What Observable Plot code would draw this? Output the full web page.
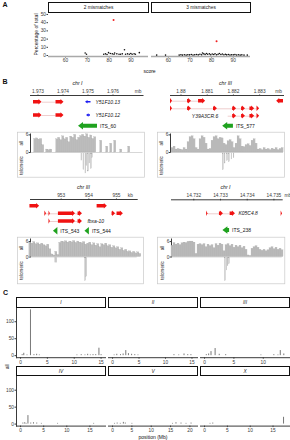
<!DOCTYPE html>
<html><head><meta charset="utf-8">
<script src="https://cdn.jsdelivr.net/npm/d3@7"></script>
<script src="https://cdn.jsdelivr.net/npm/@observablehq/plot@0.6"></script>
<style>
html,body{margin:0;padding:0;background:#fff;}
#c{position:relative;width:290px;height:440px;overflow:hidden;background:#fff;}
#c > svg{position:absolute;left:0;top:0;}
</style></head><body><div id="c"></div>
<script>
// ---------------- Panel A data ----------------
const mismatchLabels = ["2 mismatches", "3 mismatches"];
const scoreA2 = [69, 69.6, 77.5, 78.3, 79, 79.7, 80.5, 81.4, 82.2, 82.5, 83.5, 84.5, 85.2, 86, 87, 87.5, 88.4, 89.2, 89.9, 90.5, 91.4, 92, 93.8];
const pctA2   = [3, 1.5, 1.5, 2, 1.2, 3.5, 2.5, 2, 1.5, 3, 2, 1.5, 1.5, 2, 7, 1.5, 2, 1.5, 2.5, 1.5, 2, 1.5, 3.5];
const scoreA3 = [54.6, 58.7, 65, 65.8, 66.5, 67.4, 68.2, 69, 69.8, 70.6, 71.4, 72.2, 73, 73.8, 74.6, 75.4, 75.8, 76.4, 77, 77.6, 78.2, 79, 79.6, 80.3, 81, 81.6, 82.3, 83, 83.6, 84.3, 85, 85.7, 86.4, 87, 87.8, 88.5, 89.2, 90, 90.8, 91.6, 92.4, 93.2, 94, 95, 96.5];
const pctA3   = [0.5, 0.5, 0.5, 1, 0.5, 1, 0.5, 1, 0.8, 1.2, 0.6, 1, 1.3, 0.8, 1.5, 1, 3, 2, 1.2, 2.5, 1.5, 2, 1, 1.8, 1.2, 2.2, 1, 1.6, 2.4, 1.2, 1.8, 1, 1.5, 0.8, 1.2, 0.6, 1, 0.8, 1.1, 0.6, 0.9, 0.5, 0.8, 0.5, 0.5];
const redScore = [82, 82.3];
const redPct = [43.3, 17.5];
const scoreTicks = [60, 70, 80, 90];
const pctTicks = [0, 10, 20, 30, 40, 50];

// ---------------- Panel B data (positions in kb) ----------------
const ticksB1 = [1973, 1974, 1975, 1976], tickLabelsB1 = ["1.973", "1.974", "1.975", "1.976"];
const exonsB1 = [[1, 1972.82, 1973.16, "+"], [1, 1973.72, 1974.04, "+"], [2, 1972.82, 1973.16, "+"], [2, 1973.72, 1974.04, "+"]];
const intronsB1 = [[1, 1973.16, 1973.72], [2, 1973.16, 1973.72]];
const blueB1 = [[1, 1974.9, 1975.12, "-"], [2, 1974.94, 1975.1, "-"]];
const namesB1 = [[1, 1975.3, "Y51F10.13", "start"], [2, 1975.3, "Y51F10.12", "start"]];
const itsB1 = [[1974.62, 1975.38, "-", "ITS_60"]];
const covB1 = [0, 4.6, 4.8, 4.4, 4.6, 2.5, 0, 1, 0.8, 1, 0, 0, 4.5, 5, 4.2, 5.5, 4.5, 5, 3.5, 5.4, 5, 6, 4.2, 5, 5.6, 6, 5.4, 6.2, 5, 5.8, 4.6, 5.2, 0, 0, 4, 0, 0, 2, 0, 3, 0, 4, 0, 0, 1, 0, 0, 0, 2, 0];
const telPosB1 = [1974.74, 1974.82, 1974.90, 1974.94, 1975.00, 1975.06, 1975.12, 1975.16];
const telValB1 = [1.8, 4.2, 5, 3.2, 4.5, 2.5, 3.8, 1.2];

const ticksB2 = [1880, 1881, 1882, 1883], tickLabelsB2 = ["1.88", "1.881", "1.882", "1.883"];
const exonsB2 = [[1, 1879.60, 1879.68, "+"], [1, 1880.25, 1880.40, "+"], [1, 1880.67, 1880.94, "+"], [1, 1883.65, 1883.91, "-"],
  [2, 1879.60, 1879.68, "+"], [2, 1880.25, 1880.40, "+"], [2, 1881.24, 1881.39, "+"], [2, 1881.97, 1882.12, "+"], [2, 1882.31, 1882.46, "+"], [2, 1882.63, 1882.81, "+"], [2, 1882.90, 1883.00, "+"],
  [3, 1881.97, 1882.12, "+"], [3, 1882.31, 1882.46, "+"], [3, 1882.63, 1882.81, "+"], [3, 1882.90, 1883.00, "+"]];
const intronsB2 = [[1, 1879.68, 1880.67], [2, 1879.68, 1882.90], [3, 1881.80, 1882.90]];
const blueB2 = [];
const namesB2 = [[3, 1881.42, "Y39A3CR.6", "end"]];
const itsB2 = [[1881.59, 1882.0, "-", "ITS_577"]];
const covB2 = [1.5, 2, 1, 1.2, 1, 0.8, 1.5, 1, 3.5, 5.2, 5.5, 4.5, 1.5, 1, 4.5, 5.5, 5, 3, 1, 1.2, 4, 5.2, 5.5, 4.5, 5, 4.8, 3, 2.5, 3.8, 4.2, 3.5, 1.5, 3, 5.5, 4.5, 2, 1.8, 2.5, 2.8, 2.2, 4, 4.5, 3, 1, 1.2, 0.8, 1.5, 1, 1.2, 0.8, 1.3, 1, 1.5, 0.8, 1.2, 1.5];
const telPosB2 = [1881.60, 1881.67, 1881.76, 1881.83, 1881.93, 1882.01];
const telValB2 = [4.2, 2.5, 1.8, 2.2, 1.5, 1.2];

const ticksB3 = [953, 954, 955], tickLabelsB3 = ["953", "954", "955"];
const exonsB3 = [[1, 951.87, 952.22, "+"], [1, 954.30, 954.67, "+"],
  [2, 952.41, 952.47, "+"], [2, 952.56, 952.61, "+"], [2, 952.90, 953.52, "+"], [2, 953.61, 953.77, "+"], [2, 954.84, 954.97, "+"], [2, 955.02, 955.25, "+"],
  [3, 952.56, 952.61, "+"], [3, 952.90, 953.52, "+"], [3, 953.61, 953.77, "+"]];
const intronsB3 = [[2, 952.41, 952.90], [2, 953.52, 953.61], [2, 954.97, 955.02], [3, 952.56, 952.90], [3, 953.52, 953.61]];
const blueB3 = [];
const namesB3 = [[3, 953.95, "fbxa-10", "start"]];
const itsB3 = [[952.72, 952.88, "-", "ITS_543"], [953.86, 954.02, "-", "ITS_544"]];
const covB3 = [5.6, 5.2, 5.8, 5, 5.3, 4.8, 5.2, 4.6, 4.2, 4.8, 3, 1, 0.6, 2, 0.8, 5.5, 6, 5.8, 6.1, 5.6, 6, 5.7, 6.2, 5.5, 6, 5.6, 5.4, 5.8, 4.8, 5.2, 5.6, 4.6, 5.3, 4.4, 5, 3.8, 5, 4.6, 5.2, 4.2, 4.6, 3.6, 4.2, 3.4, 3.8, 2.8, 3.4, 2.4, 2.8, 2, 2.2, 1.6, 2, 1.4, 1.8, 1.2];
const telPosB3 = [952.79, 952.83, 953.87, 953.91];
const telValB3 = [1.2, 1.2, 5.5, 4.5];

const ticksB4 = [14732, 14733, 14734, 14735], tickLabelsB4 = ["14.732", "14.733", "14.734", "14.735"];
const exonsB4 = [[1, 14732.48, 14732.53, "+"], [1, 14732.96, 14733.11, "+"], [1, 14733.36, 14733.56, "+"], [1, 14735.27, 14735.32, "+"]];
const intronsB4 = [[1, 14732.53, 14733.36]];
const blueB4 = [];
const namesB4 = [[1, 14733.67, "K05C4.8", "start"]];
const itsB4 = [[14733.09, 14733.34, "-", "ITS_238"]];
const covB4 = [4.4, 5.4, 4.8, 5.2, 4.6, 5.3, 5.6, 5.4, 5.9, 6, 6, 5.6, 1.2, 4.8, 5, 4.6, 5, 3.8, 4.8, 4.2, 4.6, 3.4, 5, 4.4, 5.2, 4.8, 2.2, 4.6, 5, 4.2, 4.8, 3.6, 4.4, 3.8, 4.4, 3.4, 4, 2.8, 0.6, 0.4, 3.2, 3.8, 4.2, 3.6, 2.8, 2.4, 2.8, 2.2, 2.6, 3.4, 3.8, 3, 3.6, 2.8, 3.2, 2.6];
const telPosB4 = [14733.17, 14733.23, 14733.27, 14733.32];
const telValB4 = [5.5, 3, 2, 1.5];
const covTicks = [0, 6];

// ---------------- Panel C data (Mb) ----------------
const chrNames = ["I", "II", "III", "IV", "V", "X"];
const chrLen = [15.07, 15.28, 13.78, 17.49, 20.92, 17.72];
const posI = [0.3, 0.6, 1.2, 1.85, 2.5, 3.0, 3.5, 10.5, 11.3, 12.0, 12.5, 13.0, 13.5, 14.0, 14.6, 15.0];
const valI = [3, 7, 2, 135, 3, 4, 2, 2, 3, 2, 4, 2, 3, 3, 22, 3];
const posII = [0.3, 0.8, 1.5, 2.0, 2.5, 3.0, 3.6, 4.2, 4.8, 11.6, 12.5, 13.5, 14.2, 14.8];
const valII = [2, 4, 3, 5, 15, 6, 4, 3, 2, 3, 2, 5, 3, 3];
const posIII = [0.3, 0.7, 1.1, 1.8, 2.5, 3.6, 9.6, 11.8, 12.5, 12.9, 13.5];
const valIII = [3, 5, 12, 21, 4, 3, 2, 3, 2, 15, 5];
const posIV = [0.5, 0.9, 1.2, 1.6, 2.2, 2.8, 3.5, 4.5, 8.0, 15.8];
const valIV = [3, 4, 2, 25, 3, 4, 3, 2, 2, 2];
const posV = [0.5, 1.2, 2.0, 2.8, 3.3, 5.0, 15.5, 16.4, 17.7, 19.0, 20.3];
const valV = [2, 3, 2, 5, 3, 2, 2, 4, 3, 2, 3];
const posX = [1.2, 1.8, 17.3];
const valX = [2, 3, 20];
const mbTicksC = [[0, 5, 10, 15], [0, 5, 10, 15], [0, 5, 10], [0, 5, 10, 15], [0, 5, 10, 15, 20], [0, 5, 10, 15]];
const allTicks = [0, 50, 100];

// ---------------- helpers ----------------
const root = document.getElementById("c");
const W = 290, H = 440;
const FONT = '"Liberation Sans", Arial, sans-serif';
const RED = "#f01212", BLUE = "#1c1cf2", GREEN = "#1fa21f";

function plotAt(fr, opts) {
  const [x0, x1, y0, y1] = fr;
  const svg = Plot.plot(Object.assign({
    width: W, height: H,
    marginLeft: x0, marginRight: W - x1, marginTop: y0, marginBottom: H - y1,
    style: {background: "transparent", fontFamily: FONT, fontSize: "4.8px", color: "#3a3a3a", overflow: "visible", maxWidth: "none"}
  }, opts));
  root.appendChild(svg);
  return svg;
}
function textAt(x, y, s, o = {}) {
  plotAt([x - 1, x + 1, y - 1, y + 1], {marks: [Plot.text([s], {text: d => d, frameAnchor: "middle",
    fontSize: o.size || 5, fontStyle: o.italic ? "italic" : "normal", fontWeight: o.bold ? "bold" : "normal",
    fill: o.fill || "#111", textAnchor: o.anchor || "middle"})]});
}
function strip(fr, label, italic) {
  plotAt(fr, {marks: [Plot.frame({stroke: "#111", fill: "none", strokeWidth: 1}),
    Plot.text([label], {text: d => d, frameAnchor: "middle", textAnchor: "middle", lineAnchor: "middle", fontSize: 4.8, fill: "#222", fontStyle: italic ? "italic" : "normal"})]});
}
// vertical (rotated) axis title to the left of a frame
function yTitle(label, dx, size) {
  return Plot.text([label], {text: d => d, frameAnchor: "left", textAnchor: "middle", lineAnchor: "middle", dx, rotate: -90, fontSize: size, fill: "#1a1a1a"});
}
// polygon (for area mark) of a gene-feature arrow; sizes are in pixels
function arrow(start, end, strand, y, id, ppu, st) {
  const head = Math.min(st.head / ppu, end - start);
  if (strand === "+") {
    const b = end - head;
    return [{id, x: start, y1: y - st.h, y2: y + st.h}, {id, x: b, y1: y - st.h, y2: y + st.h},
            {id, x: b, y1: y - st.H, y2: y + st.H}, {id, x: end, y1: y, y2: y}];
  }
  const b = start + head;
  return [{id, x: start, y1: y, y2: y}, {id, x: b, y1: y - st.H, y2: y + st.H},
          {id, x: b, y1: y - st.h, y2: y + st.h}, {id, x: end, y1: y - st.h, y2: y + st.h}];
}

// ---------------- Panel A ----------------
textAt(4.5, 4.5, "A", {bold: true, size: 7});
const xDomA = [52.2, 98], yDomA = [-1.2, 52.4];
const framesA = [[48, 148, 12, 56], [151, 250, 12, 56]];
const scoresA = [scoreA2, scoreA3], pctsA = [pctA2, pctA3];
mismatchLabels.forEach((lab, i) => {
  const pts = scoresA[i].map((s, j) => ({s, p: pctsA[i][j]}));
  const marks = [
    Plot.ruleY([yDomA[0]], {stroke: "#a9a9a9", strokeWidth: 1.6}),
    Plot.dot(pts, {x: "s", y: "p", r: 0.8, fill: "#111"}),
    Plot.dot([{s: redScore[i], p: redPct[i]}], {x: "s", y: "p", r: 1, fill: "#f02020"})
  ];
  if (i === 0) marks.push(yTitle("Percentage of total", -12, 5));
  plotAt(framesA[i], {
    x: {domain: xDomA, ticks: scoreTicks, tickSize: 1.5, tickPadding: 1, label: null},
    y: i === 0 ? {domain: yDomA, ticks: pctTicks, tickSize: 1.5, tickPadding: 1, label: null} : {domain: yDomA, axis: null},
    marks
  });
  strip([framesA[i][0], framesA[i][1], 2, 12], lab, false);
});
plotAt([48, 250, 12, 56], {marks: [Plot.text(["score"], {text: d => d, frameAnchor: "bottom", lineAnchor: "middle", dy: 15, fontSize: 5, fill: "#111"})]});

// ---------------- Panel B ----------------
textAt(4.5, 81.5, "B", {bold: true, size: 7});
const EX = {h: 1.7, H: 2.7, head: 3}, BL = {h: 0.8, H: 1.8, head: 2.5}, IT = {h: 2, H: 3.8, head: 5};
const panelsB = [
  {chr: "chr I", chrXY: [77, 82.5], xDom: [1972.7, 1977.2], xr: [30, 142.5], axisY: 95, ticks: ticksB1, tickLabels: tickLabelsB1, unit: "mb", unitPos: 1977,
   exons: exonsB1, introns: intronsB1, blue: blueB1, names: namesB1, its: itsB1, rows: [6.7, 20], itsRow: 30.7,
   cov: covB1, covStart: 1972.77, covStep: 0.08, covFrame: [133.5, 152], covMax: 6.3, telPos: telPosB1, telVal: telValB1, telFrame: [153, 177], box: [17, 144, 131.7, 176.7]},
  {chr: "chr III", chrXY: [225, 82.5], xDom: [1879.6, 1883.91], xr: [170, 283], axisY: 95, ticks: ticksB2, tickLabels: tickLabelsB2, unit: "mb", unitPos: 1883.72,
   exons: exonsB2, introns: intronsB2, blue: blueB2, names: namesB2, its: itsB2, rows: [5.7, 13.3, 20.7], itsRow: 30.7,
   cov: covB2, covStart: 1879.64, covStep: 0.0763, covFrame: [133.5, 152], covMax: 6.3, telPos: telPosB2, telVal: telValB2, telFrame: [153, 177], box: [157, 284, 131.7, 176.7]},
  {chr: "chr III", chrXY: [83, 187], xDom: [951.89, 955.75], xr: [30, 136.7], axisY: 199, ticks: ticksB3, tickLabels: tickLabelsB3, unit: "kb", unitPos: 955.5,
   exons: exonsB3, introns: intronsB3, blue: blueB3, names: namesB3, its: itsB3, rows: [6.7, 14.3, 22], itsRow: 31.7,
   cov: covB3, covStart: 951.85, covStep: 0.0723, covFrame: [238.5, 256.5], covMax: 7, telPos: telPosB3, telVal: telValB3, telFrame: [257.5, 282.5], box: [17, 143, 236.7, 283.3]},
  {chr: "chr I", chrXY: [225, 187], xDom: [14731.165, 14735.31], xr: [171, 281.7], axisY: 199.3, ticks: ticksB4, tickLabels: tickLabelsB4, unit: "mb", unitPos: 14735.52,
   exons: exonsB4, introns: intronsB4, blue: blueB4, names: namesB4, its: itsB4, rows: [14], itsRow: 30.7,
   cov: covB4, covStart: 14731.165, covStep: 0.0749, covFrame: [238.5, 256.5], covMax: 7, telPos: telPosB4, telVal: telValB4, telFrame: [257.5, 282.5], box: [157, 284.3, 236.7, 283.3]}
];
panelsB.forEach((P, k) => {
  const [x0, x1] = P.xr;
  const ppu = (x1 - x0) / (P.xDom[1] - P.xDom[0]);
  const rowY = r => P.rows[r - 1];
  const tickMap = new Map(P.ticks.map((t, i) => [t, P.tickLabels[i]]));
  const red = [], blue = [], green = [];
  P.exons.forEach((e, i) => red.push(...arrow(e[1], e[2], e[3], rowY(e[0]), "e" + i, ppu, EX)));
  P.blue.forEach((e, i) => blue.push(...arrow(e[1], e[2], e[3], rowY(e[0]), "b" + i, ppu, BL)));
  P.its.forEach((e, i) => green.push(...arrow(e[0], e[1], e[2], P.itsRow, "g" + i, ppu, IT)));
  const introns = P.introns.map(d => ({y: rowY(d[0]), a: d[1], b: d[2]}));
  const names = P.names.map(d => ({y: rowY(d[0]), x: d[1], t: d[2], anchor: d[3]}));
  const itsLab = P.its.map(d => ({x: d[1] + 2.5 / ppu, t: d[3]}));
  textAt(P.chrXY[0], P.chrXY[1], P.chr, {italic: true, size: 5.2});
  plotAt([x0, x1, P.axisY, P.axisY + 38], {
    x: {domain: P.xDom, axis: "top", ticks: P.ticks, tickFormat: d => tickMap.get(d), tickSize: 1.5, tickPadding: 1, line: true, label: null},
    y: {domain: [0, 38], range: [P.axisY, P.axisY + 38], axis: null},
    marks: [
      Plot.ruleY(introns, {y: "y", x1: "a", x2: "b", stroke: "#dd9c9c", strokeWidth: 0.5}),
      Plot.areaY(red, {x: "x", y1: "y1", y2: "y2", z: "id", fill: RED}),
      Plot.areaY(blue, {x: "x", y1: "y1", y2: "y2", z: "id", fill: BLUE}),
      Plot.areaY(green, {x: "x", y1: "y1", y2: "y2", z: "id", fill: GREEN}),
      Plot.text(names.filter(d => d.anchor === "start"), {x: "x", y: "y", text: "t", textAnchor: "start", fontStyle: "italic", fontSize: 5, fill: "#111"}),
      Plot.text(names.filter(d => d.anchor === "end"), {x: "x", y: "y", text: "t", textAnchor: "end", fontStyle: "italic", fontSize: 5, fill: "#111"}),
      Plot.text(itsLab, {x: "x", y: () => P.itsRow, text: "t", textAnchor: "start", fontSize: 5, fill: "#111"}),
      Plot.text([P.unitPos], {x: d => d, text: () => P.unit, frameAnchor: "top", lineAnchor: "middle", dy: -4.4, fontSize: 4.8})
    ]
  });
  // coverage: all reads
  plotAt(P.box, {marks: [Plot.frame({stroke: "#c9c9c9", fill: "none", strokeWidth: 0.7})]});
  const bins = P.cov.map((v, i) => ({a: P.covStart + i * P.covStep, b: P.covStart + (i + 1) * P.covStep, v}));
  plotAt([x0, x1, P.covFrame[0], P.covFrame[1]], {
    x: {domain: P.xDom, axis: null},
    y: {domain: [0, P.covMax], ticks: covTicks, tickFormat: d => String(d), tickSize: 1.3, tickPadding: 0.8, line: true, label: null},
    marks: [
      Plot.rect(bins, {x1: "a", x2: "b", y1: 0, y2: "v", fill: "#bcbcbc", stroke: "#9e9e9e", strokeWidth: 0.2}),
      Plot.ruleY([0], {stroke: "#999", strokeWidth: 0.4}),
      yTitle("all", -8.5, 4.6)
    ]
  });
  // coverage: telomeric reads (hanging down)
  const tel = P.telPos.map((p, i) => ({a: p, b: p + 0.7 / ppu, v: P.telVal[i]}));
  plotAt([x0, x1, P.telFrame[0], P.telFrame[1]], {
    x: {domain: P.xDom, axis: null},
    y: {domain: [0, 6], reverse: true, axis: null},
    marks: [
      Plot.rect(tel, {x1: "a", x2: "b", y1: 0, y2: "v", fill: "#d6d6d6", stroke: "#a0a0a0", strokeWidth: 0.3}),
      yTitle("telomeric", -8.5, 4.6)
    ]
  });
});

// ---------------- Panel C ----------------
textAt(5, 292, "C", {bold: true, size: 7});
const posC = [posI, posII, posIII, posIV, posV, posX], valC = [valI, valII, valIII, valIV, valV, valX];
const colsC = [[16, 105], [108, 197], [200, 289]];
const rowsC = [[307, 357.2], [375.5, 425.6]];
const stripsC = [[297, 307], [366, 375]];
const yDomC = [-6, 142];
chrNames.forEach((nm, i) => {
  const c = colsC[i % 3], r = rowsC[Math.floor(i / 3)], s = stripsC[Math.floor(i / 3)];
  const L = chrLen[i];
  const data = posC[i].map((p, j) => ({p, v: valC[i][j]}));
  plotAt([c[0], c[1], r[0], r[1]], {
    x: {domain: [-0.05 * L, 1.05 * L], ticks: mbTicksC[i], tickSize: 1.5, tickPadding: 1, line: true, label: null},
    y: i % 3 === 0 ? {domain: yDomC, ticks: allTicks, tickSize: 1.5, tickPadding: 1, line: true, label: null} : {domain: yDomC, axis: null},
    marks: [Plot.ruleX(data, {x: "p", y1: 0, y2: "v", stroke: "#555", strokeWidth: 0.8})]
  });
  strip([c[0], c[1], s[0], s[1]], nm, true);
});
plotAt([16, 289, 307, 425.6], {marks: [
  Plot.text(["position (Mb)"], {text: d => d, frameAnchor: "bottom", lineAnchor: "middle", dy: 11.5, fontSize: 5, fill: "#111"}),
  yTitle("all", -9, 5)
]});
</script></body></html>
